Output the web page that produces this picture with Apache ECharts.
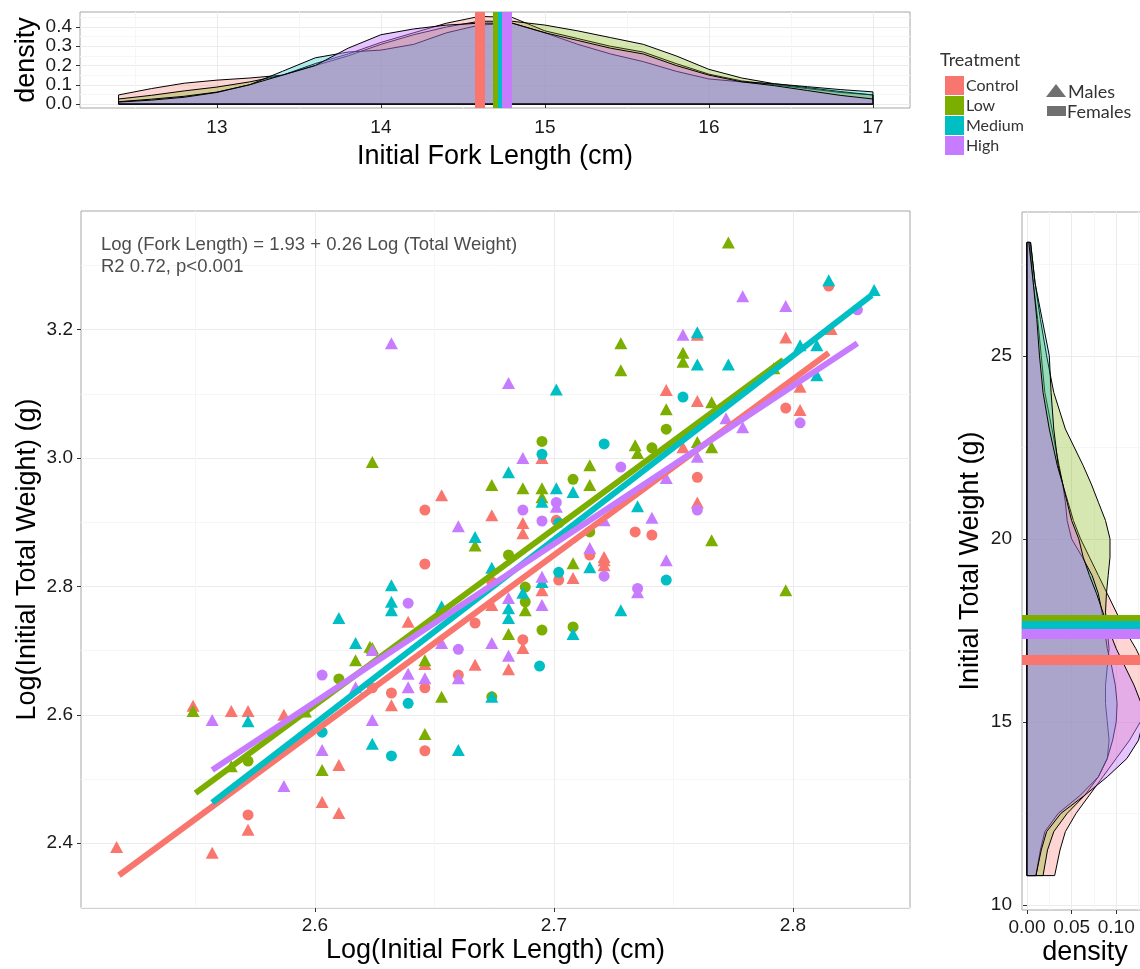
<!DOCTYPE html>
<html>
<head>
<meta charset="utf-8">
<title>Fork length vs total weight</title>
<script src="https://cdn.jsdelivr.net/npm/echarts@6/dist/echarts.min.js"></script>
<style>
  html, body { margin: 0; padding: 0; background: #fff; }
  #chart { width: 1140px; height: 969px; }
</style>
</head>
<body>
<div id="chart"></div>
<script>
const treatments = ['Control', 'Low', 'Medium', 'High']
const colors = ['#F8766D', '#7CAE00', '#00BFC4', '#C77CFF']
const fillAlpha = [0.3, 0.3, 0.3, 0.45]

// main scatter: [log fork length, log total weight]
const controlMales = [[2.695,3.000],[2.653,2.942],[2.674,2.911],[2.687,2.899],[2.687,2.883],[2.721,2.846],[2.760,2.931],[2.708,2.813],[2.721,2.841],[2.721,2.833],[2.695,2.794],[2.674,2.771],[2.639,2.745],[2.687,2.704],[2.667,2.678],[2.681,2.671],[2.646,2.679],[2.632,2.615],[2.610,2.522],[2.603,2.464],[2.610,2.447],[2.572,2.421],[2.557,2.385],[2.517,2.394],[2.549,2.614],[2.565,2.606],[2.572,2.606],[2.587,2.600],[2.760,3.192],[2.797,3.188],[2.816,3.201],[2.803,3.111],[2.803,3.075],[2.747,3.106],[2.760,3.089],[2.754,3.017]]
const controlFemales = [[2.646,2.919],[2.701,2.903],[2.734,2.885],[2.715,2.849],[2.741,2.880],[2.760,2.970],[2.702,2.810],[2.667,2.743],[2.646,2.835],[2.687,2.717],[2.660,2.662],[2.646,2.642],[2.632,2.634],[2.624,2.642],[2.646,2.544],[2.572,2.444],[2.815,3.268],[2.797,3.078],[2.674,2.807]]
const lowMales = [[2.728,3.179],[2.728,3.137],[2.624,2.994],[2.715,2.989],[2.734,3.020],[2.747,3.076],[2.674,2.958],[2.687,2.953],[2.695,2.953],[2.715,2.958],[2.695,2.939],[2.667,2.864],[2.735,3.008],[2.708,2.836],[2.688,2.763],[2.681,2.726],[2.646,2.685],[2.653,2.628],[2.624,2.704],[2.646,2.570],[2.617,2.685],[2.623,2.706],[2.603,2.514],[2.549,2.606],[2.565,2.520],[2.596,2.605],[2.773,3.336],[2.754,3.164],[2.754,3.150],[2.792,3.140],[2.766,3.087],[2.760,3.025],[2.766,3.017],[2.766,2.872],[2.797,2.794]]
const lowFemales = [[2.695,3.026],[2.708,2.967],[2.715,2.885],[2.747,3.045],[2.741,3.016],[2.681,2.849],[2.688,2.799],[2.688,2.776],[2.708,2.737],[2.695,2.732],[2.674,2.628],[2.610,2.656],[2.572,2.528]]
const mediumMales = [[2.701,3.107],[2.681,2.978],[2.701,2.953],[2.708,2.947],[2.695,2.932],[2.667,2.877],[2.735,2.925],[2.728,2.763],[2.715,2.830],[2.695,2.807],[2.681,2.766],[2.681,2.751],[2.632,2.802],[2.632,2.776],[2.632,2.763],[2.653,2.769],[2.674,2.829],[2.687,2.790],[2.708,2.726],[2.674,2.628],[2.624,2.555],[2.660,2.545],[2.610,2.751],[2.617,2.712],[2.572,2.590],[2.815,3.277],[2.834,3.262],[2.760,3.196],[2.760,3.146],[2.773,3.146],[2.803,3.176],[2.810,3.176],[2.810,3.129]]
const mediumFemales = [[2.721,3.022],[2.695,3.006],[2.702,2.899],[2.747,2.810],[2.702,2.822],[2.694,2.676],[2.639,2.618],[2.632,2.536],[2.603,2.573],[2.754,3.095]]
const highMales = [[2.632,3.179],[2.681,3.117],[2.687,3.000],[2.701,2.924],[2.660,2.894],[2.721,2.903],[2.715,2.860],[2.741,2.907],[2.760,3.002],[2.747,2.969],[2.747,2.841],[2.735,2.791],[2.695,2.815],[2.695,2.771],[2.681,2.782],[2.674,2.712],[2.653,2.712],[2.681,2.692],[2.660,2.657],[2.646,2.657],[2.639,2.664],[2.639,2.643],[2.624,2.592],[2.617,2.643],[2.603,2.545],[2.587,2.489],[2.557,2.592],[2.779,3.252],[2.797,3.237],[2.754,3.192],[2.772,3.062],[2.779,3.048],[2.624,2.701]]
const highFemales = [[2.728,2.986],[2.687,2.919],[2.701,2.931],[2.695,2.902],[2.760,2.919],[2.721,2.816],[2.735,2.797],[2.639,2.774],[2.660,2.702],[2.603,2.662],[2.827,3.231],[2.803,3.055]]

// fitted lines (start and end)
const controlFit = [[2.518, 2.350], [2.815, 3.164]]
const lowFit = [[2.550, 2.478], [2.796, 3.153]]
const mediumFit = [[2.557, 2.463], [2.833, 3.254]]
const highFit = [[2.557, 2.514], [2.827, 3.179]]

// top panel: density of initial fork length
const forkLength = [12.4, 12.6, 12.8, 13.0, 13.2, 13.4, 13.6, 13.8, 14.0, 14.2, 14.4, 14.6, 14.8, 15.0, 15.2, 15.4, 15.6, 15.8, 16.0, 16.2, 16.4, 16.6, 16.8, 17.0]
const forkDensControl = [0.047, 0.08, 0.108, 0.124, 0.135, 0.15, 0.21, 0.26, 0.32, 0.37, 0.42, 0.455, 0.45, 0.38, 0.34, 0.30, 0.27, 0.21, 0.155, 0.12, 0.10, 0.08, 0.06, 0.047]
const forkDensLow = [0.026, 0.045, 0.068, 0.088, 0.115, 0.15, 0.20, 0.25, 0.31, 0.36, 0.40, 0.43, 0.43, 0.41, 0.38, 0.345, 0.31, 0.25, 0.18, 0.135, 0.105, 0.085, 0.065, 0.047]
const forkDensMedium = [0.012, 0.025, 0.04, 0.062, 0.10, 0.17, 0.24, 0.27, 0.28, 0.31, 0.37, 0.41, 0.42, 0.37, 0.31, 0.26, 0.22, 0.17, 0.13, 0.115, 0.105, 0.09, 0.075, 0.063]
const forkDensHigh = [0.01, 0.02, 0.035, 0.06, 0.10, 0.15, 0.20, 0.29, 0.36, 0.39, 0.41, 0.42, 0.42, 0.37, 0.33, 0.29, 0.26, 0.20, 0.15, 0.115, 0.095, 0.07, 0.045, 0.026]
const forkMeans = [14.60, 14.705, 14.745, 14.765]

// right panel: density of initial total weight
const weight = [10.8, 11.5, 12, 12.5, 13, 13.5, 14, 14.5, 15, 15.5, 16, 16.5, 17, 17.5, 18, 18.5, 19, 19.5, 20, 20.5, 21, 21.5, 22, 23, 24, 25, 26, 27, 28.1]
const weightDensControl = [0.031, 0.037, 0.043, 0.055, 0.07, 0.085, 0.10, 0.115, 0.127, 0.135, 0.138, 0.132, 0.122, 0.11, 0.10, 0.09, 0.08, 0.07, 0.06, 0.052, 0.046, 0.04, 0.036, 0.028, 0.02, 0.016, 0.012, 0.007, 0.003]
const weightDensLow = [0.018, 0.023, 0.03, 0.045, 0.065, 0.08, 0.09, 0.092, 0.09, 0.088, 0.088, 0.09, 0.092, 0.09, 0.088, 0.089, 0.091, 0.093, 0.093, 0.088, 0.08, 0.072, 0.063, 0.043, 0.03, 0.022, 0.015, 0.009, 0.004]
const weightDensMedium = [0.010, 0.015, 0.02, 0.035, 0.06, 0.08, 0.09, 0.096, 0.10, 0.101, 0.099, 0.095, 0.09, 0.087, 0.084, 0.08, 0.073, 0.062, 0.05, 0.045, 0.043, 0.04, 0.035, 0.03, 0.027, 0.025, 0.017, 0.009, 0.004]
const weightDensHigh = [0.010, 0.016, 0.022, 0.038, 0.065, 0.09, 0.112, 0.125, 0.13, 0.128, 0.12, 0.11, 0.10, 0.092, 0.085, 0.078, 0.07, 0.063, 0.058, 0.05, 0.045, 0.04, 0.034, 0.025, 0.018, 0.014, 0.011, 0.007, 0.002]
const weightMeans = [16.7, 17.8, 17.62, 17.42]

// tick values (gridlines) and labelled ticks
const mainXGrid = [2.55, 2.6, 2.65, 2.7, 2.75, 2.8]
const mainXLabels = [2.6, 2.7, 2.8]
const mainYGrid = [2.3, 2.4, 2.5, 2.6, 2.7, 2.8, 2.9, 3.0, 3.1, 3.2, 3.3]
const mainYLabels = [2.4, 2.6, 2.8, 3.0, 3.2]
const topXGrid = [12.5, 13, 13.5, 14, 14.5, 15, 15.5, 16, 16.5, 17]
const topXLabels = [13, 14, 15, 16, 17]
const topYGrid = [0, 0.05, 0.1, 0.15, 0.2, 0.25, 0.3, 0.35, 0.4, 0.45]
const topYLabels = [0, 0.1, 0.2, 0.3, 0.4]
const rightYGrid = [10, 12.5, 15, 17.5, 20, 22.5, 25, 27.5]
const rightYLabels = [10, 15, 20, 25]
const rightXGrid = [0, 0.025, 0.05, 0.075, 0.1, 0.125]
const rightXLabels = [0, 0.05, 0.1]

const font = 'Liberation Sans'
const MAJOR = '#ebebeb'
const MINOR = '#f6f6f6'

const chart = echarts.init(document.getElementById('chart'))

function gridAxis(gridIndex, position, min, max, ticks, lineColors) {
    return {
        type: 'value', gridIndex, position, min, max,
        axisLine: { show: false },
        axisTick: { show: false, customValues: ticks },
        axisLabel: { show: false },
        splitLine: { show: true, lineStyle: { color: lineColors, width: 1 } },
    }
}

function labelAxis(gridIndex, position, min, max, labels, digits, name, nameGap, margin) {
    return {
        type: 'value', gridIndex, position, min, max,
        axisLine: { show: false },
        splitLine: { show: false },
        axisTick: { show: true, length: 4, customValues: labels, lineStyle: { color: '#333' } },
        axisLabel: {
            customValues: labels,
            formatter: v => v.toFixed(digits),
            color: '#1a1a1a', fontSize: 19, fontFamily: font, margin,
        },
        name, nameGap, nameLocation: 'middle', nameMoveOverlap: false,
        nameTextStyle: { fontSize: 27, fontFamily: font, color: '#000' },
    }
}

function densityShape(points, color, alpha, xi, yi) {
    return {
        type: 'custom', xAxisIndex: xi, yAxisIndex: yi, clip: true, silent: true,
        data: points,
        renderItem(params, api) {
            if (params.dataIndex !== 0) return
            return {
                type: 'polygon',
                shape: { points: points.map(p => api.coord(p)) },
                style: { fill: color, fillOpacity: alpha, stroke: '#000', lineWidth: 1 },
            }
        },
    }
}

function meanLine(value, color, xi, yi, dim) {
    return {
        type: 'line', xAxisIndex: xi, yAxisIndex: yi, data: [], silent: true,
        markLine: {
            silent: true, symbol: 'none', label: { show: false },
            lineStyle: { color, width: 10, type: 'solid', opacity: 1 },
            data: [{ [dim]: value }],
        },
    }
}

const forkDens = [forkDensControl, forkDensLow, forkDensMedium, forkDensHigh]
const weightDens = [weightDensControl, weightDensLow, weightDensMedium, weightDensHigh]
const males = [controlMales, lowMales, mediumMales, highMales]
const females = [controlFemales, lowFemales, mediumFemales, highFemales]
const fits = [controlFit, lowFit, mediumFit, highFit]

const series = []
treatments.forEach((t, i) => {
    series.push({
        type: 'scatter', name: t, xAxisIndex: 2, yAxisIndex: 2, data: males[i],
        symbol: 'triangle', symbolSize: [13, 12], itemStyle: { color: colors[i], opacity: 1 }, silent: true,
    })
    series.push({
        type: 'scatter', name: t, xAxisIndex: 2, yAxisIndex: 2, data: females[i],
        symbol: 'circle', symbolSize: 11, itemStyle: { color: colors[i], opacity: 1 }, silent: true,
    })
})
treatments.forEach((t, i) => {
    series.push({
        type: 'line', name: t, xAxisIndex: 2, yAxisIndex: 2, data: fits[i],
        showSymbol: false, symbol: 'none', silent: true,
        lineStyle: { color: colors[i], width: 6 },
    })
})
treatments.forEach((t, i) => {
    const top = [[forkLength[0], 0]]
    forkLength.forEach((x, k) => top.push([x, forkDens[i][k]]))
    top.push([forkLength[forkLength.length - 1], 0])
    series.push(densityShape(top, colors[i], fillAlpha[i], 0, 0))

    const side = [[0, weight[0]]]
    weight.forEach((w, k) => side.push([weightDens[i][k], w]))
    side.push([0, weight[weight.length - 1]])
    series.push(densityShape(side, colors[i], fillAlpha[i], 4, 4))
})
treatments.forEach((t, i) => {
    series.push(meanLine(forkMeans[i], colors[i], 0, 0, 'xAxis'))
    series.push(meanLine(weightMeans[i], colors[i], 4, 4, 'yAxis'))
})

const option = {
    animation: false,
    backgroundColor: '#fff',
    textStyle: { fontFamily: font },
    grid: [
        { left: 80, top: 12, right: 230, height: 96, show: true, borderColor: '#a6a6a6', borderWidth: 1, outerBoundsMode: 'none' },
        { left: 81, top: 211, right: 230, height: 697, show: true, borderColor: '#a6a6a6', borderWidth: 1, outerBoundsMode: 'none' },
        { left: 1022, top: 212, width: 126, height: 698, show: true, borderColor: '#a6a6a6', borderWidth: 1, outerBoundsMode: 'none' },
    ],
    xAxis: [
        gridAxis(0, 'bottom', 12.165, 17.226, topXGrid, [MINOR, MAJOR]),
        labelAxis(0, 'bottom', 12.165, 17.226, topXLabels, 0, 'Initial Fork Length (cm)', 35, 10),
        gridAxis(1, 'bottom', 2.5021, 2.849, mainXGrid, [MINOR, MAJOR]),
        labelAxis(1, 'bottom', 2.5021, 2.849, mainXLabels, 1, 'Log(Initial Fork Length) (cm)', 29, 8),
        gridAxis(2, 'bottom', -0.0056, 0.1356, rightXGrid, [MAJOR, MINOR]),
        labelAxis(2, 'bottom', -0.0056, 0.1356, rightXLabels, 2, 'density', 29, 8),
    ],
    yAxis: [
        gridAxis(0, 'left', -0.0208, 0.478, topYGrid, [MAJOR, MINOR]),
        labelAxis(0, 'left', -0.0208, 0.478, topYLabels, 1, 'density', 40, 8),
        gridAxis(1, 'left', 2.299, 3.385, mainYGrid, [MINOR, MAJOR]),
        labelAxis(1, 'left', 2.299, 3.385, mainYLabels, 1, 'Log(Initial Total Weight) (g)', 40, 8),
        gridAxis(2, 'left', 9.86, 28.93, rightYGrid, [MAJOR, MINOR]),
        labelAxis(2, 'left', 9.86, 28.93, rightYLabels, 0, 'Initial Total Weight (g)', 38, 10),
    ],
    legend: {
        data: treatments.map(t => ({ name: t, icon: 'rect' })),
        orient: 'vertical', left: 945, top: 76, padding: 0,
        itemWidth: 19, itemHeight: 19, itemGap: 1,
        selectedMode: false,
        textStyle: { fontFamily: 'Lato', fontSize: 16, color: '#333', padding: [0, 0, 0, -3] },
    },
    graphic: [
        { type: 'text', left: 940, top: 51, style: { text: 'Treatment', font: '18px Lato', fill: '#333' } },
        { type: 'polygon', shape: { points: [[1046, 97], [1056, 84], [1066, 97]] }, style: { fill: '#707070' } },
        { type: 'text', left: 1068, top: 83, style: { text: 'Males', font: '18px Lato', fill: '#333' } },
        { type: 'rect', shape: { x: 1047, y: 106, width: 19, height: 10 }, style: { fill: '#707070' } },
        { type: 'text', left: 1067, top: 103, style: { text: 'Females', font: '18px Lato', fill: '#333' } },
        {
            type: 'text', left: 101, top: 234, z: 10,
            style: {
                text: 'Log (Fork Length) = 1.93 + 0.26 Log (Total Weight)\nR2 0.72, p<0.001',
                font: '18.5px "Liberation Sans"', fill: '#4d4d4d', lineHeight: 22,
            },
        },
    ],
    series,
}

chart.setOption(option)
</script>
</body>
</html>
